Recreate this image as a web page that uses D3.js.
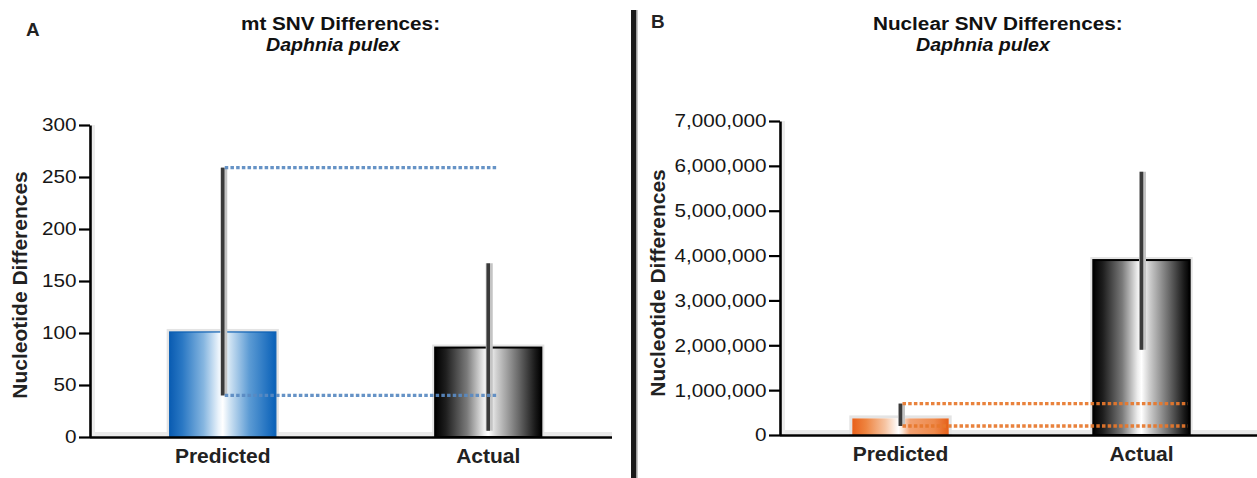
<!DOCTYPE html>
<html>
<head>
<meta charset="utf-8">
<script src="https://cdn.jsdelivr.net/npm/d3@7/dist/d3.min.js"></script>
<style>
  html, body { margin: 0; padding: 0; background: #fff; }
  svg { display: block; font-family: "Liberation Sans", Arial, Helvetica, sans-serif; }
</style>
</head>
<body>
<svg id="chart" width="1257" height="478"></svg>
<script>
// ---------------- data ----------------
const categories = ["Predicted", "Actual"];

const mtValues   = [101, 86];
const mtErrLow   = [40, 6];
const mtErrHigh  = [259, 167];
const mtGuides   = [259, 40];
const mtTicks    = [0, 50, 100, 150, 200, 250, 300];

const nucValues  = [370000, 3900000];
const nucErrLow  = [200000, 1900000];
const nucErrHigh = [700000, 5870000];
const nucGuides  = [700000, 200000];
const nucTicks   = [0, 1000000, 2000000, 3000000, 4000000, 5000000, 6000000, 7000000];

const panelLetters = ["A", "B"];
const titleLines = [["mt SNV Differences:", "Daphnia pulex"], ["Nuclear SNV Differences:", "Daphnia pulex"]];
const yLabel = "Nucleotide Differences";

// ---------------- layout ----------------
const svg = d3.select("#chart");
const defs = svg.append("defs");

function grad(id, stops) {
  const g = defs.append("linearGradient").attr("id", id)
    .attr("x1", "0%").attr("x2", "100%").attr("y1", "0%").attr("y2", "0%");
  stops.forEach(([o, c]) => g.append("stop").attr("offset", o).attr("stop-color", c));
}
grad("gBlue", [["0%", "#0a5cb2"], ["12%", "#2a78c4"], ["32%", "#86b6e0"], ["46%", "#eaf3fb"], ["50%", "#ffffff"], ["56%", "#d3e5f4"], ["75%", "#5c9bd4"], ["100%", "#0860b8"]]);
grad("gGray", [["0%", "#000000"], ["10%", "#1e1e1e"], ["30%", "#7a7a7a"], ["46%", "#eeeeee"], ["50%", "#ffffff"], ["58%", "#cfcfcf"], ["78%", "#6c6c6c"], ["94%", "#1a1a1a"], ["100%", "#000000"]]);
grad("gOrange", [["0%", "#e8601a"], ["14%", "#ee8440"], ["34%", "#f6c4a2"], ["48%", "#ffffff"], ["52%", "#fbe6d8"], ["60%", "#f2a070"], ["85%", "#ee8a4c"], ["100%", "#e65f18"]]);

const panels = [
  {
    values: mtValues, low: mtErrLow, high: mtErrHigh, guides: mtGuides, ticks: mtTicks,
    xRange: [90, 621], axisEnd: 612, yDomain: [0, 300], yRange: [437, 125],
    fills: ["url(#gBlue)", "url(#gGray)"], strokes: ["#0b5fb3", "#000"],
    guideColor: "#5a8ac2", guideEnd: 0.575, fmt: d3.format("d"),
    letter: [26, 36], title: [[241, 30], [266, 51]], yLabelX: 19, yLabelShift: 4
  },
  {
    values: nucValues, low: nucErrLow, high: nucErrHigh, guides: nucGuides, ticks: nucTicks,
    xRange: [780, 1262], axisEnd: 1257, yDomain: [0, 7000000], yRange: [435, 121],
    fills: ["url(#gOrange)", "url(#gGray)"], strokes: ["none", "#000"],
    guideColor: "#e8782c", guideEnd: 0.98, fmt: d3.format(","),
    letter: [651, 28], title: [[873, 30], [916, 51]], yLabelX: 657, yLabelShift: 5
  }
];

// divider
svg.append("line").attr("x1", 633.5).attr("x2", 633.5).attr("y1", 10).attr("y2", 478)
  .attr("stroke", "#1a1a1a").attr("stroke-width", 5);
svg.append("line").attr("x1", 636.8).attr("x2", 636.8).attr("y1", 10).attr("y2", 478)
  .attr("stroke", "#9a9a9a").attr("stroke-width", 1.5);

panels.forEach((p, pi) => {
  const g = svg.append("g");
  const x = d3.scaleBand().domain(categories).range(p.xRange).paddingInner(0.6).paddingOuter(0.3);
  const y = d3.scaleLinear().domain(p.yDomain).range(p.yRange);
  const bw = x.bandwidth();
  const y0 = y(0);

  // faint shadows along axes
  g.append("line").attr("x1", p.xRange[0] + 3).attr("x2", p.axisEnd).attr("y1", y0 - 3).attr("y2", y0 - 3)
    .attr("stroke", "#e9e9e9").attr("stroke-width", 4);
  g.append("line").attr("x1", p.xRange[0] + 3.5).attr("x2", p.xRange[0] + 3.5).attr("y1", p.yRange[1]).attr("y2", y0)
    .attr("stroke", "#ececec").attr("stroke-width", 3);

  // bars halo + bars
  g.selectAll("rect.halo").data(p.values).join("rect").attr("class", "halo")
    .attr("x", (d, i) => x(categories[i]) - 1.5).attr("y", d => y(d) - 1.5)
    .attr("width", bw + 3).attr("height", d => y0 - y(d) + 1.5)
    .attr("fill", "none").attr("stroke", "#e4e4e4").attr("stroke-width", 3);
  g.selectAll("rect.bar").data(p.values).join("rect").attr("class", "bar")
    .attr("x", (d, i) => x(categories[i])).attr("y", d => y(d))
    .attr("width", bw).attr("height", d => y0 - y(d))
    .attr("fill", (d, i) => p.fills[i])
    .attr("stroke", (d, i) => p.strokes[i]).attr("stroke-width", (d, i) => i === 1 ? 2 : 1.2);

  // error bars
  const cx = i => x(categories[i]) + bw / 2;
  categories.forEach((c, i) => {
    g.append("line").attr("x1", cx(i) + 1).attr("x2", cx(i) + 1)
      .attr("y1", y(p.low[i])).attr("y2", y(p.high[i]))
      .attr("stroke", "#c4c4c4").attr("stroke-width", 7);
    g.append("line").attr("x1", cx(i)).attr("x2", cx(i))
      .attr("y1", y(p.low[i])).attr("y2", y(p.high[i]))
      .attr("stroke", "#3a3a3a").attr("stroke-width", 3.5);
  });

  // dotted guide lines from predicted error ends to actual bar
  p.guides.forEach(v => {
    g.append("line").attr("x1", cx(0) + 2).attr("x2", x(categories[1]) + bw * p.guideEnd)
      .attr("y1", y(v)).attr("y2", y(v))
      .attr("stroke", p.guideColor).attr("stroke-width", 3.4)
      .attr("stroke-dasharray", "3.5,2.2").attr("opacity", 0.92);
  });

  // y axis
  const ya = g.append("g").attr("transform", `translate(${p.xRange[0]},0)`)
    .call(d3.axisLeft(y).tickValues(p.ticks).tickSize(11).tickSizeOuter(0).tickPadding(3).tickFormat(p.fmt));
  ya.select(".domain").attr("stroke", "#000").attr("stroke-width", 2.6);
  ya.selectAll(".tick line").attr("stroke", "#000").attr("stroke-width", 2.2);
  ya.selectAll(".tick text").attr("fill", "#161616").attr("font-size", 18.5)
    .attr("x", -13.5 / 1.12).attr("transform", "scale(1.12,1)");

  // x axis
  g.append("line").attr("x1", p.xRange[0]).attr("x2", p.axisEnd).attr("y1", y0 + 0.5).attr("y2", y0 + 0.5)
    .attr("stroke", "#000").attr("stroke-width", 2.6);
  const xa = g.append("g").attr("transform", `translate(0,${y0})`)
    .call(d3.axisBottom(x).tickSize(0).tickPadding(11));
  xa.select(".domain").remove();
  xa.selectAll(".tick text").attr("fill", "#222").attr("font-size", 21).attr("font-weight", "bold");

  // y label
  g.append("text").attr("transform", `translate(${p.yLabelX},${(p.yRange[0] + p.yRange[1]) / 2 + p.yLabelShift}) rotate(-90)`)
    .attr("text-anchor", "middle").attr("dy", "0.36em")
    .attr("font-size", 21).attr("font-weight", "bold").attr("fill", "#222").text(yLabel);

  // panel letter
  g.append("text").attr("transform", `translate(${p.letter[0]},${p.letter[1]}) scale(1.05,1)`)
    .attr("font-size", 18).attr("font-weight", "bold").attr("fill", "#222").text(panelLetters[pi]);

  // titles
  g.append("text").attr("transform", `translate(${p.title[0][0]},${p.title[0][1]}) scale(1.12,1)`)
    .attr("font-size", 18.5).attr("font-weight", "bold").attr("fill", "#111").text(titleLines[pi][0]);
  g.append("text").attr("transform", `translate(${p.title[1][0]},${p.title[1][1]}) scale(1.06,1)`)
    .attr("font-size", 18.5).attr("font-weight", "bold").attr("font-style", "italic").attr("fill", "#111").text(titleLines[pi][1]);
});
</script>
</body>
</html>
